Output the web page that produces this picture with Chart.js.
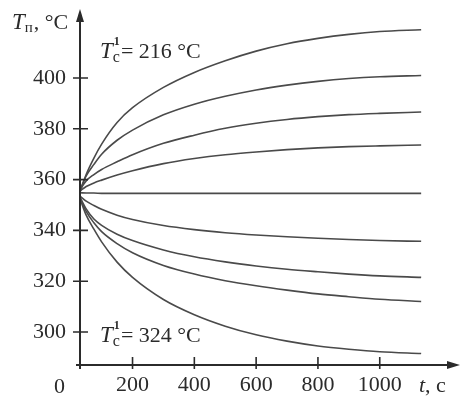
<!DOCTYPE html>
<html><head><meta charset="utf-8">
<script src="https://cdn.jsdelivr.net/npm/chart.js@4/dist/chart.umd.min.js"></script>
<style>html,body{margin:0;padding:0;background:#fff}#wrap{width:474px;height:401px}</style>
</head><body><div id="wrap"><canvas id="c" width="474" height="401"></canvas></div>
<script>
const timeSec = [30,50,75,100,150,200,300,400,500,600,700,800,900,1000,1134];
const curve1 = [355,362,368.5,374,382.5,388.3,396.3,402.2,406.8,410.6,413.5,415.6,417.2,418.3,419];
const curve2 = [356,361.5,366,370,375.5,379.5,385.5,389.7,392.8,395.3,397.2,398.7,399.8,400.5,401];
const curve3 = [356,359.5,362,364,367,369.8,374.3,377.5,380.2,382.2,383.7,384.8,385.6,386.1,386.6];
const curve4 = [355.5,357.3,358.7,359.8,361.8,363.5,366.3,368.3,369.8,370.9,371.8,372.5,373,373.3,373.6];
const curve5 = [354.8,354.7,354.7,354.6,354.6,354.6,354.6,354.6,354.6,354.6,354.6,354.6,354.6,354.6,354.6];
const curve6 = [353.5,351.5,349.8,348.3,346,344.3,341.9,340.3,339.1,338.2,337.5,336.9,336.4,336,335.7];
const curve7 = [353,348.5,344.5,342,338.5,336,332.3,329.6,327.6,326,324.7,323.7,322.8,322.1,321.5];
const curve8 = [353,347.5,343,339.5,334.8,331.2,326.2,322.8,320.2,318.2,316.5,315,313.9,312.9,312];
const curve9 = [352.5,346,340.5,335.5,327.5,321.5,312.8,306.8,302.3,298.9,296.4,294.5,293.2,292.2,291.5];
const yTicks = [300,320,340,360,380,400];
const xTicks = [200,400,600,800,1000];
const allCurves = [curve1,curve2,curve3,curve4,curve5,curve6,curve7,curve8,curve9];

const SERIF = '"Liberation Serif", "DejaVu Serif", serif';
const INK = '#2b2b2b';

const datasets = allCurves.map(c => ({
  data: c.map((v,i) => ({x: timeSec[i], y: v})),
  borderColor: '#4a4a4a',
  borderWidth: 1.6,
  pointRadius: 0,
  fill: false,
  cubicInterpolationMode: 'monotone'
}));

function rich(ctx, parts, x, y) {
  let cx = x;
  for (const p of parts) {
    ctx.font = p.font;
    ctx.fillText(p.text, cx + (p.dx||0), y + (p.dy||0));
    if (!p.noAdvance) cx += ctx.measureText(p.text).width + (p.dx||0) + (p.after||0);
  }
}

const decor = {
  id: 'decor',
  afterDraw(chart) {
    const ctx = chart.ctx;
    const xs = chart.scales.x, ys = chart.scales.y;
    const ox = xs.getPixelForValue(xs.min);
    const oy = ys.getPixelForValue(ys.min);
    ctx.save();
    ctx.strokeStyle = INK; ctx.fillStyle = INK;
    ctx.lineWidth = 2;
    ctx.beginPath();
    ctx.moveTo(ox, oy + 4); ctx.lineTo(ox, ys.top + 4);
    ctx.moveTo(ox - 4, oy); ctx.lineTo(xs.right - 2, oy);
    ctx.stroke();
    ctx.beginPath();
    ctx.moveTo(ox, ys.top - 3); ctx.lineTo(ox - 4, ys.top + 10); ctx.lineTo(ox + 4, ys.top + 10); ctx.closePath();
    ctx.fill();
    ctx.beginPath();
    ctx.moveTo(xs.right + 3, oy); ctx.lineTo(xs.right - 10, oy - 4); ctx.lineTo(xs.right - 10, oy + 4); ctx.closePath();
    ctx.fill();
    ctx.lineWidth = 1.6;
    ctx.beginPath();
    for (const v of yTicks) { const py = ys.getPixelForValue(v); ctx.moveTo(ox - 7, py); ctx.lineTo(ox + 8, py); }
    for (const v of xTicks) { const px = xs.getPixelForValue(v); ctx.moveTo(px, oy - 8); ctx.lineTo(px, oy + 4); }
    ctx.stroke();
    ctx.textBaseline = 'alphabetic';
    ctx.textAlign = 'left';
    rich(ctx, [
      {text:'T', font:'italic 23px '+SERIF},
      {text:'п', font:'15px '+SERIF, dy:3, after:1},
      {text:', °C', font:'22px '+SERIF}
    ], 12, 29);
    rich(ctx, [
      {text:'t', font:'italic 22px '+SERIF},
      {text:', с', font:'22px '+SERIF}
    ], 419, 392);
    ctx.font = '22px '+SERIF;
    ctx.fillText('0', 54, 393);
    const lbl = (val, y) => rich(ctx, [
      {text:'T', font:'italic 23px '+SERIF},
      {text:'1', font:'bold 12px '+SERIF, dx:1, dy:-13, noAdvance:true},
      {text:'c', font:'16px '+SERIF, dy:4, after:1},
      {text:'= ' + val + ' °C', font:'22px '+SERIF}
    ], 100, y);
    lbl(216, 58);
    lbl(324, 342);
    ctx.restore();
  }
};

new Chart(document.getElementById('c'), {
  type: 'line',
  data: { datasets },
  options: {
    responsive: false,
    animation: false,
    layout: { padding: { top: 12, right: 17, left: 0, bottom: 0 } },
    plugins: { legend: { display: false }, tooltip: { enabled: false } },
    scales: {
      x: {
        type: 'linear', min: 30, max: 1250,
        grid: { display: false, drawTicks: false },
        border: { display: false },
        ticks: { font: { family: SERIF, size: 22 }, color: INK, padding: 7, callback: v => String(v) },
        afterBuildTicks: s => { s.ticks = xTicks.map(v => ({ value: v })); },
        afterFit: s => { s.height = 36; s.paddingLeft = 0; s.paddingRight = 0; }
      },
      y: {
        type: 'linear', min: 287, max: 426,
        grid: { display: false, drawTicks: false },
        border: { display: false },
        ticks: { font: { family: SERIF, size: 22 }, color: INK, padding: 14, callback: v => String(v) },
        afterBuildTicks: s => { s.ticks = yTicks.map(v => ({ value: v })); },
        afterFit: s => { s.width = 80; s.paddingTop = 0; s.paddingBottom = 0; }
      }
    }
  },
  plugins: [decor]
});
</script></body></html>
